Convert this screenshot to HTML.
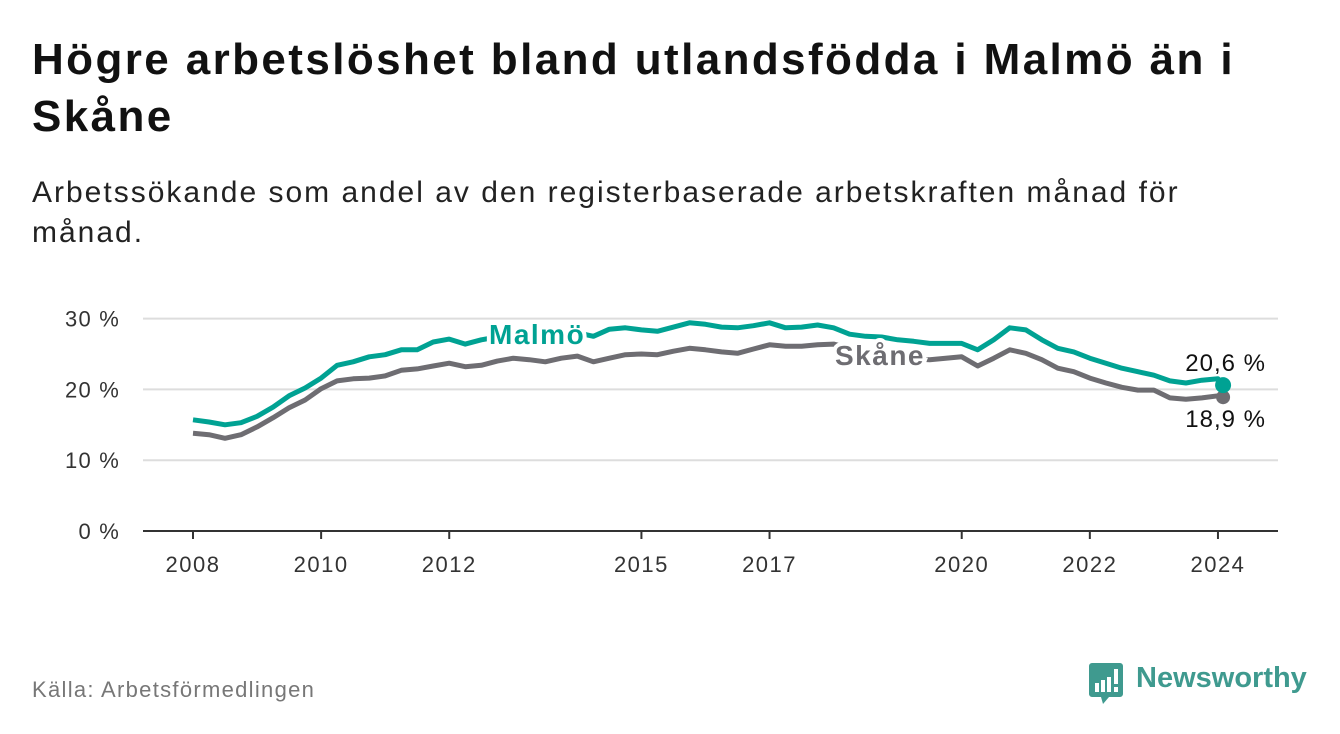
<!DOCTYPE html>
<html><head><meta charset="utf-8"><style>
body{margin:0;background:#fff;font-family:"Liberation Sans","DejaVu Sans",sans-serif;}
#w{position:relative;width:1340px;height:734px;overflow:hidden;}
h1{position:absolute;left:32px;top:31px;margin:0;font-size:44px;letter-spacing:2.4px;line-height:57px;font-weight:bold;color:#111;width:1290px;}
.sub{position:absolute;left:32px;top:173px;font-size:30px;letter-spacing:2px;line-height:40px;color:#222;width:1240px;}
.src{position:absolute;left:32px;top:677px;font-size:22px;letter-spacing:1.3px;color:#777;}
</style></head><body>
<div id="w">
<h1>Högre arbetslöshet bland utlandsfödda i Malmö än i Skåne</h1>
<div class="sub">Arbetssökande som andel av den registerbaserade arbetskraften månad för månad.</div>
<svg id="c" width="1340" height="734" style="position:absolute;left:0;top:0"></svg>
<div class="src">Källa: Arbetsförmedlingen</div>
<div style="position:absolute;left:1089px;top:662px;">
<svg width="40" height="42" style="position:absolute;left:0;top:1px"><path d="M3 0h28a3 3 0 0 1 3 3v28a3 3 0 0 1-3 3H20l-6 7-2-7H3a3 3 0 0 1-3-3V3a3 3 0 0 1 3-3z" fill="#3f9a8f"/><rect x="6" y="20" width="4" height="9" fill="#fff"/><rect x="12" y="17" width="4" height="12" fill="#fff"/><rect x="18" y="14" width="4" height="15" fill="#fff"/><rect x="25" y="6" width="4" height="15" fill="#fff"/><rect x="25" y="24" width="4" height="5" fill="#fff"/></svg>
<span style="position:absolute;left:47px;top:0px;font-size:29px;font-weight:bold;color:#3f9a8f;white-space:nowrap">Newsworthy</span></div>
</div>
<script>
const years=[2008,2008.25,2008.5,2008.75,2009,2009.25,2009.5,2009.75,2010,2010.25,2010.5,2010.75,2011,2011.25,2011.5,2011.75,2012,2012.25,2012.5,2012.75,2013,2013.25,2013.5,2013.75,2014,2014.25,2014.5,2014.75,2015,2015.25,2015.5,2015.75,2016,2016.25,2016.5,2016.75,2017,2017.25,2017.5,2017.75,2018,2018.25,2018.5,2018.75,2019,2019.25,2019.5,2019.75,2020,2020.25,2020.5,2020.75,2021,2021.25,2021.5,2021.75,2022,2022.25,2022.5,2022.75,2023,2023.25,2023.5,2023.75,2024,2024.08];
const malmo=[15.7,15.4,15.0,15.3,16.2,17.5,19.1,20.2,21.6,23.4,23.9,24.6,24.9,25.6,25.6,26.7,27.1,26.4,27.0,27.4,27.8,27.9,28.1,28.0,28.0,27.5,28.5,28.7,28.4,28.2,28.8,29.4,29.2,28.8,28.7,29.0,29.4,28.7,28.8,29.1,28.7,27.8,27.5,27.4,27.0,26.8,26.5,26.5,26.5,25.6,27.0,28.7,28.4,27.0,25.8,25.3,24.4,23.7,23.0,22.5,22.0,21.2,20.9,21.3,21.5,20.6];
const skane=[13.8,13.6,13.1,13.6,14.7,16.0,17.4,18.5,20.1,21.2,21.5,21.6,21.9,22.7,22.9,23.3,23.7,23.2,23.4,24.0,24.4,24.2,23.9,24.4,24.7,23.9,24.4,24.9,25.0,24.9,25.4,25.8,25.6,25.3,25.1,25.7,26.3,26.1,26.1,26.3,26.4,25.8,25.2,24.8,24.5,24.3,24.2,24.4,24.6,23.3,24.4,25.6,25.1,24.2,23.0,22.5,21.6,20.9,20.3,19.9,19.9,18.8,18.6,18.8,19.1,18.9];
const yTicks=[0,10,20,30];
const yTickLabels=["0 %","10 %","20 %","30 %"];
const xTicks=[2008,2010,2012,2015,2017,2020,2022,2024];
const X=v=>193+(v-2008)*64.06;
const Y=v=>531-v*7.08;
const svg=document.getElementById('c');const NS='http://www.w3.org/2000/svg';
function mk(t,a){const e=document.createElementNS(NS,t);for(const k in a)e.setAttribute(k,a[k]);svg.appendChild(e);return e;}
yTicks.forEach((v,i)=>{
 const l=mk('line',{x1:143,x2:1278,y1:Y(v),y2:Y(v),stroke:v===0?'#333':'#ddd','stroke-width':2});
 
 
 const t=mk('text',{x:120,y:Y(v)+8,'text-anchor':'end','font-size':22,'letter-spacing':1.2,fill:'#333'});t.textContent=yTickLabels[i];
 
 
});
xTicks.forEach(v=>{
 const l=mk('line',{x1:X(v),x2:X(v),y1:531,y2:539,stroke:'#333','stroke-width':2});
 
 
 const t=mk('text',{x:X(v),y:572,'text-anchor':'middle','font-size':22,'letter-spacing':1.5,fill:'#333'});t.textContent=v;
 
 
});
function path(arr){return arr.map((v,i)=>(i?'L':'M')+X(years[i]).toFixed(1)+' '+Y(v).toFixed(1)).join('');}
const ps=mk('path',{d:path(skane),fill:'none',stroke:'#6e6d72','stroke-width':5,'stroke-linejoin':'round'});


const pm=mk('path',{d:path(malmo),fill:'none',stroke:'#00a293','stroke-width':5,'stroke-linejoin':'round'});


const n=years.length-1;
const ds=mk('circle',{cx:X(years[n]),cy:Y(skane[n]),r:7,fill:'#6e6d72'});


const dm=mk('circle',{cx:X(years[n]),cy:Y(malmo[n]),r:8,fill:'#00a293'});


function lab(x,y,txt,col,name,bold){const t=mk('text',{x:x,y:y,'font-size':bold?28:24,'letter-spacing':bold?1.5:1,'font-weight':bold?'bold':'normal',fill:col,stroke:'#fff','stroke-width':bold?8:0,'paint-order':'stroke','text-anchor':bold?'start':'end'});t.textContent=txt;
 
 }
lab(489,344,'Malmö','#00a293','malmo-label',true);
lab(835,365,'Skåne','#6e6d72','skane-label',true);
lab(1266,371,(malmo[n].toFixed(1)).replace('.',',')+' %','#111','malmo-value-label',false);
lab(1266,427,(skane[n].toFixed(1)).replace('.',',')+' %','#111','skane-value-label',false);
</script>
</body></html>
